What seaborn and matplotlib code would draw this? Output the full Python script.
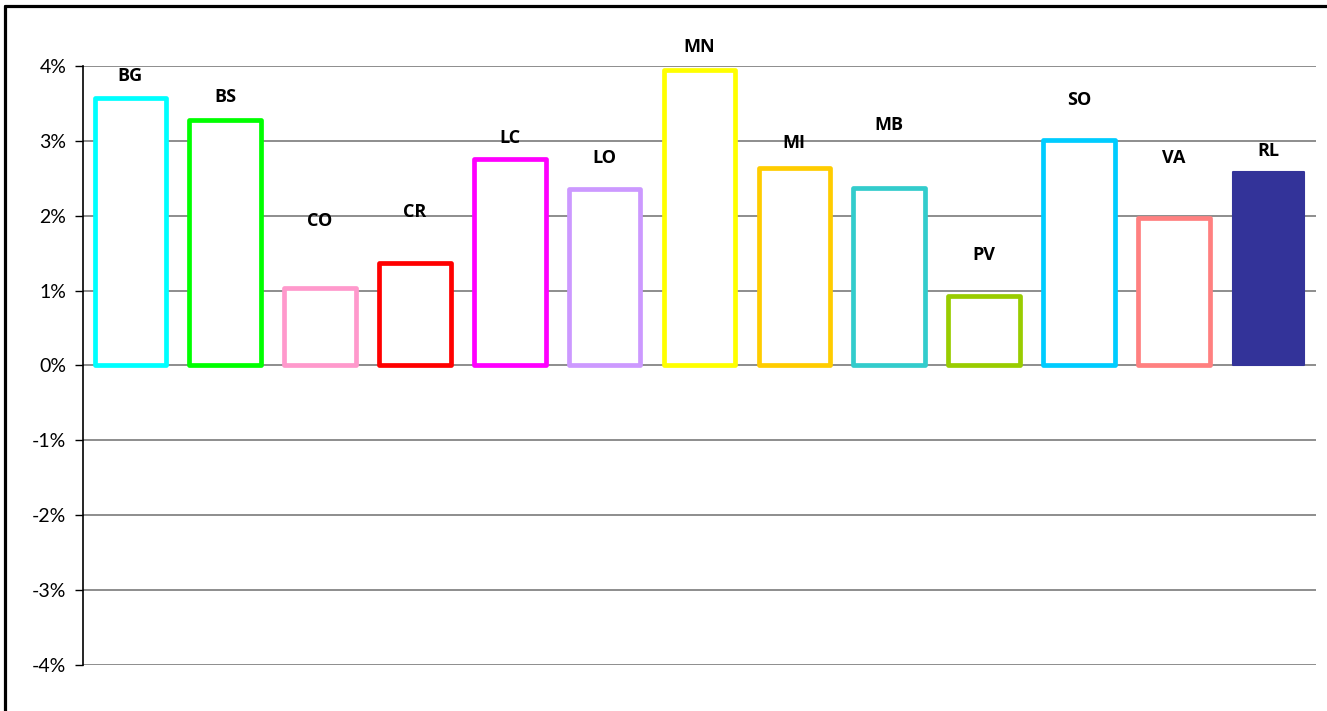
import matplotlib
matplotlib.use("Agg")
import matplotlib.pyplot as plt
import seaborn as sns
import pandas as pd
from matplotlib.lines import Line2D
from matplotlib.ticker import FuncFormatter, MultipleLocator

# Province codes and their growth rates (%)
provinces = ["BG", "BS", "CO", "CR", "LC", "LO", "MN", "MI", "MB", "PV", "SO", "VA", "RL"]
growth = [3.57, 3.28, 1.04, 1.37, 2.76, 2.36, 3.95, 2.64, 2.37, 0.93, 3.01, 1.97, 2.59]
# Height at which each code label sits (%)
label_pos = [3.87, 3.59, 1.93, 2.05, 3.04, 2.77, 4.25, 2.97, 3.21, 1.48, 3.55, 2.77, 2.87]
colors = ["#00FFFF", "#00FF00", "#FF99CC", "#FF0000", "#FF00FF", "#CC99FF", "#FFFF00",
          "#FFCC00", "#33CCCC", "#99CC00", "#00CCFF", "#FF8080", "#333399"]
y_ticks = [-4, -3, -2, -1, 0, 1, 2, 3, 4]

sns.set_theme(style="white")
plt.rcParams["font.family"] = ["Lato", "DejaVu Sans"]

df = pd.DataFrame({"prov": provinces, "growth": growth})

fig = plt.figure(figsize=(13.27, 7.11), dpi=100)
ax = fig.add_axes([0.0625, 0.0647, 0.9292, 0.8425])

for t in y_ticks:
    ax.axhline(t, color="#7a7a7a", lw=1.2, zorder=0)

sns.barplot(data=df, x="prov", y="growth", hue="prov", palette=colors, fill=False,
            linewidth=3.4, width=0.755, legend=False, ax=ax, zorder=2)
for p in ax.patches:
    p.set_joinstyle("round")
    p.set_facecolor("white")
# The regional total is drawn as a solid bar
ax.patches[-1].set_facecolor(colors[-1])
ax.patches[-1].set_linewidth(1.5)

for i, (name, y) in enumerate(zip(provinces, label_pos)):
    ax.text(i, y, name, ha="center", va="center", fontsize=13, fontweight="bold",
            family=["Open Sans", "DejaVu Sans"], color="black", zorder=3)

ax.set_ylim(-4, 4)
ax.set_xlim(-0.5, len(provinces) - 0.5)
ax.yaxis.set_major_locator(MultipleLocator(1))
ax.yaxis.set_major_formatter(FuncFormatter(lambda v, _: f"{int(round(v))}%"))
ax.set_xticks([])
ax.set_xlabel("")
ax.set_ylabel("")
ax.tick_params(axis="y", left=True, length=6, width=1, color="black", labelsize=14,
               pad=6, labelcolor="black")
for s in ["top", "right", "bottom"]:
    ax.spines[s].set_visible(False)
ax.spines["left"].set_color("black")
ax.spines["left"].set_linewidth(1.2)

# Outer chart frame (top and left edges)
fig.add_artist(Line2D([0.004, 1.0], [0.9915, 0.9915], transform=fig.transFigure,
                      color="black", lw=2.3))
fig.add_artist(Line2D([0.004, 0.004], [0.0, 0.9915], transform=fig.transFigure,
                      color="black", lw=2.3))

fig.savefig("out.png", dpi=100)
